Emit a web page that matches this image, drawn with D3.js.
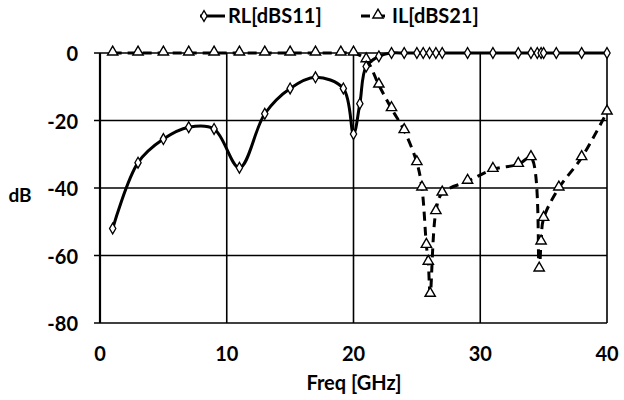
<!DOCTYPE html>
<html>
<head>
<meta charset="utf-8">
<script src="https://cdn.jsdelivr.net/npm/d3@7/dist/d3.min.js"></script>
<style>
  body { margin: 0; background: #fff; }
  text { font-family: Lato, "Open Sans", sans-serif; font-weight: bold; fill: #000; }
</style>
</head>
<body>
<svg id="chart" width="624" height="400"></svg>
<script>
// S11 return loss
const rlFreq = [1, 3, 5, 7, 9, 11, 13, 15, 17, 19.2, 20, 20.5, 21, 22, 23, 24, 25, 25.5, 26, 26.5, 27, 29, 31, 33, 34, 34.5, 34.8, 35, 36, 38, 40];
const rlDb   = [-52, -32.5, -25.5, -22, -22.5, -34, -18, -10.5, -7.2, -10.5, -24, -15, -4, -1, 0, 0, 0, 0, 0, 0, 0, 0, 0, 0, 0, 0, 0, 0, 0, 0, 0];

// S21 insertion loss
const ilFreq = [1, 3, 5, 7, 9, 11, 13, 15, 17, 19, 20, 21, 22, 23, 24, 25, 25.4, 25.75, 25.9, 26.05, 26.5, 27, 29, 31, 33, 34, 34.65, 34.8, 35, 36.2, 38, 40];
const ilDb   = [0, 0, 0, 0, 0, 0, 0, 0, 0, 0, 0, -2, -9.5, -16.5, -23, -32.5, -40, -57, -62, -71.5, -47, -41.5, -38, -34.5, -33, -31, -64, -56, -49, -40, -31, -17.5];

const xTicks = [0, 10, 20, 30, 40];
const yTicks = [0, -20, -40, -60, -80];
const seriesNames = ["RL[dBS11]", "IL[dBS21]"];

const svg = d3.select("#chart");
const plotLeft = 100, plotRight = 607, plotTop = 53, plotBottom = 323;

const x = d3.scaleLinear().domain([0, 40]).range([plotLeft, plotRight]);
const y = d3.scaleLinear().domain([-80, 0]).range([plotBottom, plotTop]);

// grid
svg.append("g").selectAll("line")
  .data(yTicks)
  .join("line")
  .attr("x1", plotLeft - 6).attr("x2", plotRight)
  .attr("y1", d => y(d)).attr("y2", d => y(d))
  .attr("stroke", "#000").attr("stroke-width", 1.6);

svg.append("g").selectAll("line")
  .data(xTicks)
  .join("line")
  .attr("x1", d => x(d)).attr("x2", d => x(d))
  .attr("y1", plotTop).attr("y2", plotBottom)
  .attr("stroke", "#000").attr("stroke-width", d => d === 0 ? 2.2 : 1.6);

// tick labels
svg.append("g").selectAll("text")
  .data(yTicks)
  .join("text")
  .attr("x", 78).attr("y", d => y(d) + 1)
  .attr("dy", "0.36em")
  .attr("text-anchor", "end")
  .attr("font-size", 20)
  .text(d => d);

svg.append("g").selectAll("text")
  .data(xTicks)
  .join("text")
  .attr("x", d => x(d)).attr("y", 354)
  .attr("dy", "0.36em")
  .attr("text-anchor", "middle")
  .attr("font-size", 20)
  .text(d => d);

svg.append("text").attr("x", 20).attr("y", 195).attr("dy", "0.36em")
  .attr("text-anchor", "middle").attr("font-size", 19).text("dB");
svg.append("text").attr("x", 354).attr("y", 383).attr("dy", "0.36em")
  .attr("text-anchor", "middle").attr("font-size", 20).text("Freq [GHz]");

const curve = d3.curveCatmullRom.alpha(0.5);
const diamond = d3.symbol().type(d3.symbolDiamond).size(34);
const triangle = d3.symbol().type(d3.symbolTriangle).size(46);

const rl = rlFreq.map((f, i) => [f, rlDb[i]]);
const il = ilFreq.map((f, i) => [f, ilDb[i]]);

const line = d3.line().x(d => x(d[0])).y(d => y(d[1])).curve(curve);

// IL series
svg.append("path").datum(il)
  .attr("d", line)
  .attr("fill", "none").attr("stroke", "#000")
  .attr("stroke-width", 3).attr("stroke-dasharray", "9,6");
svg.append("g").selectAll("path")
  .data(il)
  .join("path")
  .attr("transform", d => `translate(${x(d[0])},${y(d[1]) - 1})`)
  .attr("d", triangle)
  .attr("fill", "#fff").attr("stroke", "#000").attr("stroke-width", 1.4);

// RL series
svg.append("path").datum(rl)
  .attr("d", line)
  .attr("fill", "none").attr("stroke", "#000").attr("stroke-width", 3);
svg.append("g").selectAll("path")
  .data(rl)
  .join("path")
  .attr("transform", d => `translate(${x(d[0])},${y(d[1])})`)
  .attr("d", diamond)
  .attr("fill", "#fff").attr("stroke", "#000").attr("stroke-width", 1.3);

// legend
const lg = svg.append("g");
lg.append("line").attr("x1", 200).attr("x2", 225).attr("y1", 16).attr("y2", 16)
  .attr("stroke", "#000").attr("stroke-width", 3);
lg.append("path").attr("transform", "translate(204,16)").attr("d", diamond)
  .attr("fill", "#fff").attr("stroke", "#000").attr("stroke-width", 1.3);
lg.append("text").attr("x", 228).attr("y", 16).attr("dy", "0.36em")
  .attr("font-size", 20).text(seriesNames[0]);

lg.append("line").attr("x1", 361).attr("x2", 387).attr("y1", 16).attr("y2", 16)
  .attr("stroke", "#000").attr("stroke-width", 3).attr("stroke-dasharray", "9,6");
lg.append("path").attr("transform", "translate(378,15)").attr("d", triangle)
  .attr("fill", "#fff").attr("stroke", "#000").attr("stroke-width", 1.4);
lg.append("text").attr("x", 392).attr("y", 16).attr("dy", "0.36em")
  .attr("font-size", 20).text(seriesNames[1]);
</script>
</body>
</html>
